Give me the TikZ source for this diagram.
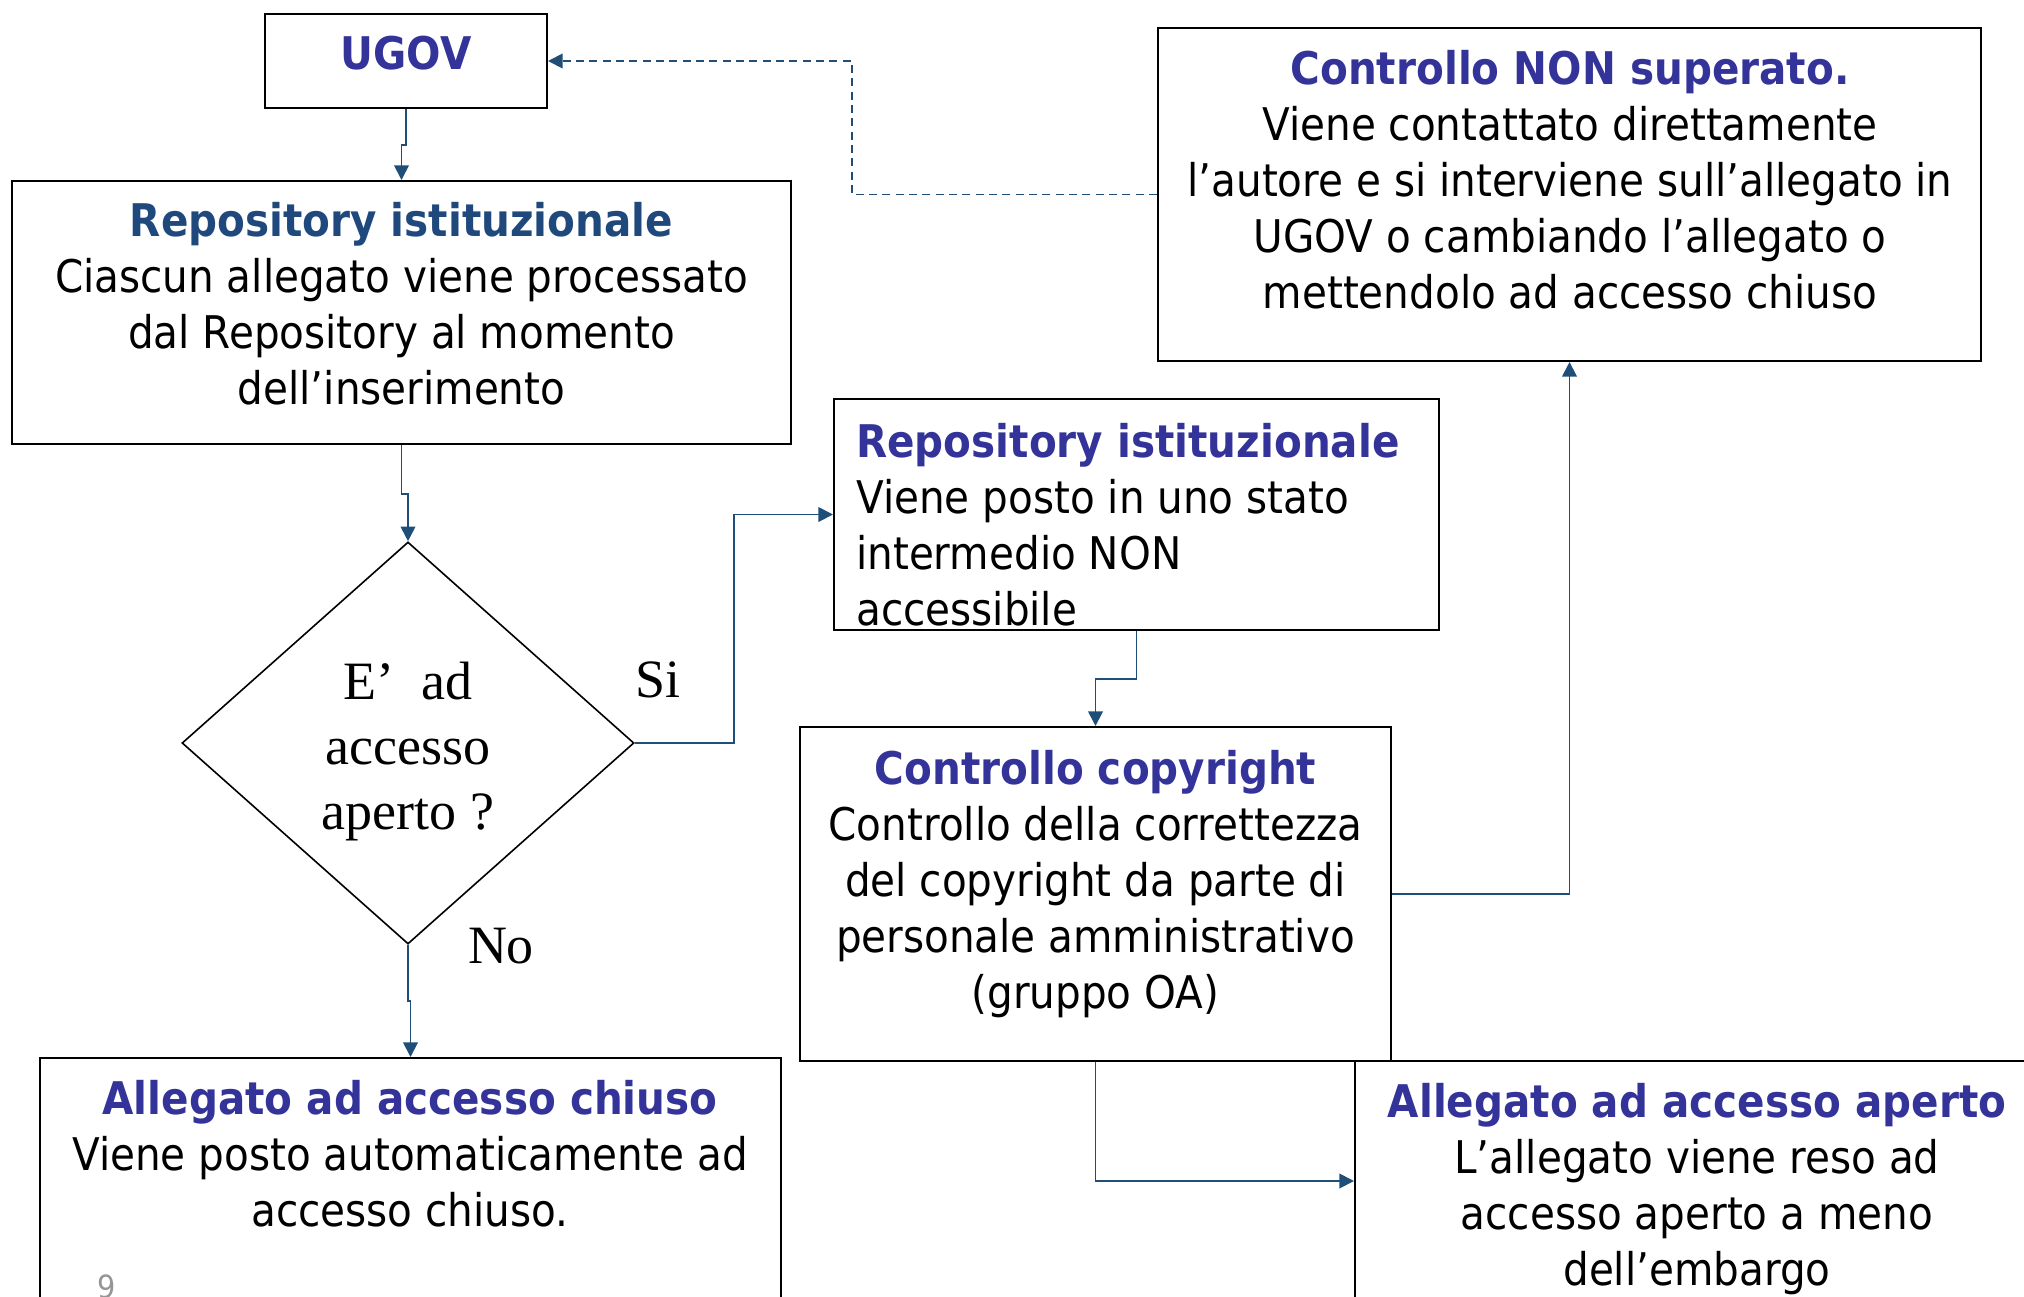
\documentclass[tikz,border=0pt]{standalone}
\usepackage{fontspec}
\setmainfont{DejaVu Sans}[FakeStretch=0.9]
\newfontfamily\decfont{Liberation Serif}
\usetikzlibrary{shapes.geometric}
\usetikzlibrary{arrows.meta}

\definecolor{titleblue}{RGB}{51,51,153}
\definecolor{repoblue}{RGB}{31,73,125}
\definecolor{linkblue}{RGB}{31,78,121}
\definecolor{pggray}{RGB}{150,150,150}

\newcommand{\boxtitle}[2][titleblue]{{\bfseries\color{#1}#2}}

\begin{document}
\begin{tikzpicture}[x=0.75pt,y=0.75pt,yscale=-1,xscale=1,
  box/.style 2 args={draw=black, line width=1.5pt, rectangle, inner sep=0pt,
    minimum width=#1*0.75pt, minimum height=#2*0.75pt},
  txt/.style={inner sep=0pt, font=\fontsize{33.75}{42}\selectfont, align=center, anchor=north},
  dec/.style={draw=black, line width=1.2pt, diamond, inner sep=0pt,
    minimum width=452*0.75pt, minimum height=402*0.75pt},
  lbl/.style={inner sep=0pt, font=\decfont\fontsize{40.5}{48.75}\selectfont},
  link/.style={draw=linkblue, line width=1.4pt, -{Triangle[length=11pt,width=11pt]}},
  back/.style={link, dash pattern=on 6pt off 4pt}]
\useasboundingbox (0,0) rectangle (2024,1296);

% boxes
\node[box={282}{94}] (ugov) at (406,61) {};
\node[box={779}{263}] (repo) at (401.5,312.5) {};
\node[box={823}{333}] (nonsup) at (1569.5,194.5) {};
\node[box={605}{231}] (stato) at (1136.5,514.5) {};
\node[box={591}{334}] (copy) at (1095.5,894) {};
\node[box={741}{244}] (chiuso) at (410.5,1180) {};
\node[box={690}{240}] (aperto) at (1700,1181) {};
\node[dec] (access) at (408,743) {};

% texts
\node[txt] (ugovtxt) at (406,36) {\boxtitle{UGOV}};
\node[txt] (repotxt) at (401.5,202) {\boxtitle[repoblue]{Repository istituzionale}\\
  Ciascun allegato viene processato\\dal Repository al momento\\dell’inserimento};
\node[txt] (nonsuptxt) at (1570,50) {\boxtitle{Controllo NON superato.}\\
  Viene contattato direttamente\\l’autore e si interviene sull’allegato in\\
  UGOV o cambiando l’allegato o\\mettendolo ad accesso chiuso};
\node[txt, align=left, anchor=north west] (statotxt) at (856,423) {\boxtitle{Repository istituzionale}\\
  Viene posto in uno stato\\intermedio NON\\accessibile};
\node[txt] (copytxt) at (1095.5,750) {\boxtitle{Controllo copyright}\\
  Controllo della correttezza\\del copyright da parte di\\personale amministrativo\\(gruppo OA)};
\node[txt] (chiusotxt) at (410,1080) {\boxtitle{Allegato ad accesso chiuso}\\
  Viene posto automaticamente ad\\accesso chiuso.};
\node[txt] (apertotxt) at (1697,1083) {\boxtitle{Allegato ad accesso aperto}\\
  L’allegato viene reso ad\\accesso aperto a meno\\dell’embargo};
\node[lbl, align=center] (accesstxt) at (408,752) {E’~ ad\\accesso\\aperto ?};

% labels
\node[lbl] (si) at (658,680) {Si};
\node[lbl] (no) at (501,946) {No};
\node[inner sep=0pt, anchor=north, text=pggray, font=\fontsize{24}{28}\selectfont] (pgno) at (107,1274) {9};

% connectors
\draw[link] (ugov.south) -- ++(0,36) -| (repo.north);
\draw[link] (repo.south) -- ++(0,49) -| (access.north);
\draw[link] (access.east) -- ++(99,0) |- (stato.west);
\draw[link] (access.south) -- ++(0,56) -| (chiuso.north);
\draw[link] (stato.south) -- ++(0,48) -| (copy.north);
\draw[link] (copy.east) -| (nonsup.south);
\draw[link] (copy.south) |- (aperto.west);
\draw[back] (nonsup.west) -- ++(-305,0) |- (ugov.east);

\end{tikzpicture}
\end{document}
